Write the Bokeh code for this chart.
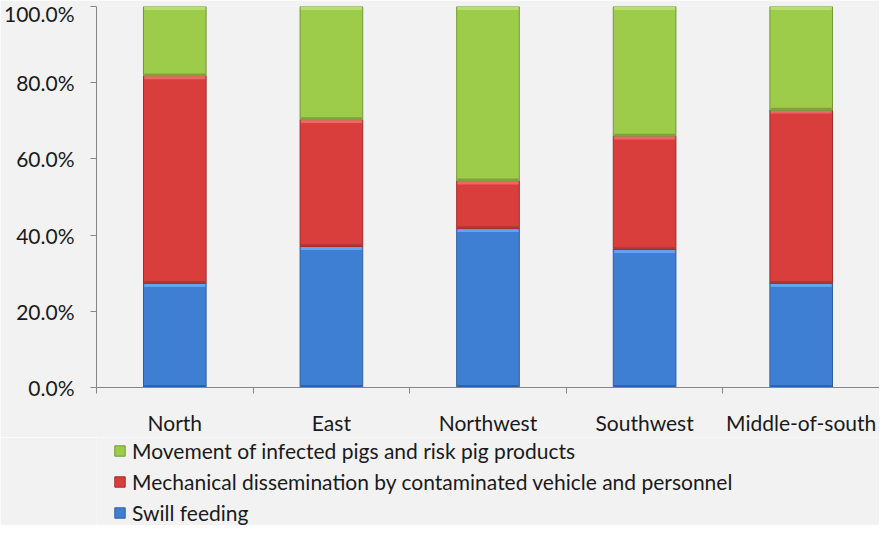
from bokeh.plotting import figure
from bokeh.layouts import column
from bokeh.models import (ColumnDataSource, Range1d, FixedTicker, LinearAxis,
                          NumeralTickFormatter, Legend, LegendItem)
from bokeh.embed import file_html
from bokeh.resources import INLINE

regions = ["North", "East", "Northwest", "Southwest", "Middle-of-south"]
swill = [0.273, 0.370, 0.417, 0.362, 0.273]
mechanical = [0.545, 0.333, 0.125, 0.298, 0.455]
movement = [0.182, 0.297, 0.458, 0.340, 0.272]
series_names = ["Swill feeding",
                "Mechanical dissemination by contaminated vehicle and personnel",
                "Movement of infected pigs and risk pig products"]
y_ticks = [0, 0.2, 0.4, 0.6, 0.8, 1.0]

FONT = "Lato"
FS = "21px"
BG = "#f2f2f2"
AXIS = "#868686"
TXT = "#1a1a1a"

fills = ["#3f7fd3", "#d93e3c", "#9ccc4a"]
lines = ["#2d5f9f", "#a02c2a", "#74973a"]
lights = ["#62a3f2", "#ee6663", "#b6e06a"]
darks = ["#2f62a8", "#b03533", "#7ea23c"]

xs = [i + 0.5 for i in range(len(regions))]
bottoms = [[0.0] * len(regions)]
tops = []
acc = [0.0] * len(regions)
for vals in (swill, mechanical, movement):
    acc = [a + v for a, v in zip(acc, vals)]
    tops.append(acc)
    bottoms.append(acc)
bottoms = bottoms[:3]

p = figure(width=879, height=437, output_backend="svg", toolbar_location=None,
           x_range=Range1d(0, len(regions)), y_range=Range1d(0, 1.0),
           x_axis_location=None, y_axis_location=None,
           min_border_left=92, min_border_top=6, min_border_right=0,
           min_border_bottom=50)
p.background_fill_color = BG
p.border_fill_color = BG
p.outline_line_color = None
p.xgrid.visible = False
p.ygrid.visible = False

W = 0.4
HL = 0.009
sources = []
for k in range(3):
    src = ColumnDataSource(dict(x=xs, b=bottoms[k], t=tops[k],
                                hb=[t - HL for t in tops[k]],
                                dt=[b + HL * 0.7 for b in bottoms[k]]))
    sources.append(src)
    p.vbar(x="x", bottom="b", top="t", width=W, source=src,
           fill_color=fills[k], line_color=lines[k], line_width=1)
    p.vbar(x="x", bottom="b", top="dt", width=W - 0.01, source=src,
           fill_color=darks[k], line_color=None)
    p.vbar(x="x", bottom="hb", top="t", width=W - 0.01, source=src,
           fill_color=lights[k], line_color=None)

# y axis
yax = LinearAxis(ticker=FixedTicker(ticks=y_ticks),
                 formatter=NumeralTickFormatter(format="0.0%"))
yax.axis_line_color = AXIS
yax.major_tick_line_color = AXIS
yax.major_tick_out = 6
yax.major_tick_in = 0
yax.minor_tick_line_color = None
yax.major_label_text_font = FONT
yax.major_label_text_font_size = FS
yax.major_label_text_color = TXT
yax.major_label_standoff = 16
p.add_layout(yax, "left")

# x axis: labels at category centres, tick marks at category boundaries
xax = LinearAxis(ticker=FixedTicker(ticks=xs,
                                    minor_ticks=list(range(len(regions) + 1))),
                 major_label_overrides={x: r for x, r in zip(xs, regions)})
xax.axis_line_color = AXIS
xax.major_tick_line_color = None
xax.major_tick_out = 0
xax.major_tick_in = 0
xax.minor_tick_line_color = AXIS
xax.minor_tick_out = 6
xax.minor_tick_in = 0
xax.major_label_text_font = FONT
xax.major_label_text_font_size = FS
xax.major_label_text_color = TXT
xax.major_label_standoff = 16
p.add_layout(xax, "below")

# legend panel (same series, drawn outside this panel's visible range)
p2 = figure(width=879, height=88, output_backend="svg", toolbar_location=None,
            x_range=Range1d(0, len(regions)), y_range=Range1d(5, 6),
            x_axis_location=None, y_axis_location=None,
            min_border_left=92, min_border_right=0, min_border_top=0,
            min_border_bottom=0)
p2.background_fill_color = BG
p2.border_fill_color = BG
p2.outline_line_color = None
p2.xgrid.visible = False
p2.ygrid.visible = False
lr = []
for k in range(3):
    lr.append(p2.vbar(x="x", bottom="b", top="t", width=W, source=sources[k],
                      fill_color=fills[k], line_color=lines[k], line_width=1))

legend = Legend(items=[LegendItem(label=series_names[2], renderers=[lr[2]]),
                       LegendItem(label=series_names[1], renderers=[lr[1]]),
                       LegendItem(label=series_names[0], renderers=[lr[0]])],
                orientation="vertical", location=(17, 0))
legend.background_fill_alpha = 0
legend.border_line_alpha = 0
legend.label_text_font = FONT
legend.label_text_font_size = FS
legend.label_text_color = TXT
legend.glyph_width = 13
legend.glyph_height = 13
legend.label_standoff = 6
legend.spacing = 6
legend.padding = 0
legend.margin = 0
legend.label_height = 20
p2.add_layout(legend, "center")

layout = column(p, p2, spacing=0)
open("out.html", "w").write(file_html(layout, INLINE))
